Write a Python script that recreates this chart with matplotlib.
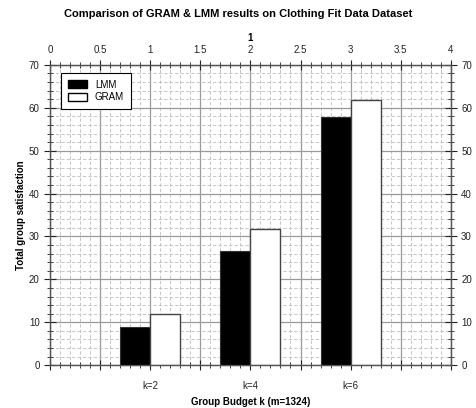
import matplotlib
matplotlib.use("Agg")
import matplotlib.pyplot as plt
import numpy as np
from matplotlib.patches import Patch

plt.rcParams['font.family'] = ['Liberation Sans', 'DejaVu Sans']

categories = ["k=2", "k=4", "k=6"]
positions = [1, 2, 3]
lmm = [9.0, 26.6, 57.8]
gram = [12.0, 31.7, 61.8]
top_ticks = [0, 0.5, 1, 1.5, 2, 2.5, 3, 3.5, 4]
top_labels = ["0", "0.5", "1", "1.5", "2", "2.5", "3", "3.5", "4"]
y_ticks = [0, 10, 20, 30, 40, 50, 60, 70]

fig = plt.figure(figsize=(4.77, 4.08), dpi=100)
ax = fig.add_axes([0.105, 0.105, 0.840, 0.736])

w = 0.3
ax.set_axisbelow(True)
ax.bar(np.array(positions) - w / 2, lmm, width=w, color='black', edgecolor='#333333', linewidth=0.8, zorder=3)
ax.bar(np.array(positions) + w / 2, gram, width=w, color='white', edgecolor='#444444', linewidth=1.0, zorder=3)

ax.set_xlim(0, 4)
ax.set_ylim(0, 70)

ax.set_xticks(top_ticks)
ax.set_xticklabels(["" if t not in positions else categories[positions.index(t)] for t in top_ticks])
ax.set_xticks(np.arange(0, 4.0001, 0.1), minor=True)
ax.set_yticks(y_ticks)
ax.set_yticks(np.arange(0, 70.001, 2), minor=True)

ax.grid(which='major', color='#9a9a9a', linewidth=0.9, linestyle='-')
ax.grid(which='minor', color='#bdbdbd', linewidth=0.6, linestyle=(0, (4, 2.5)))

ax.tick_params(axis='x', which='major', direction='inout', length=7, width=0.8, labelsize=7, pad=8, colors='#222222')
ax.tick_params(axis='x', which='minor', direction='inout', length=4, width=0.6, colors='#222222')
ax.tick_params(axis='y', which='major', direction='inout', length=8, width=0.8, labelsize=7,
               right=True, labelright=True, colors='#222222')
ax.tick_params(axis='y', which='minor', direction='inout', length=4, width=0.6, right=True, colors='#222222')

ax2 = ax.twiny()
ax2.set_xlim(0, 4)
ax2.set_xticks(top_ticks)
ax2.set_xticklabels(top_labels)
ax2.set_xticks(np.arange(0, 4.0001, 0.1), minor=True)
ax2.tick_params(axis='x', which='major', direction='inout', length=7, width=0.8, labelsize=7, colors='#222222')
ax2.tick_params(axis='x', which='minor', direction='inout', length=4, width=0.6, colors='#222222')
ax2.set_xlabel("1", fontsize=7, fontweight='bold', labelpad=3)

for a in (ax, ax2):
    for s in a.spines.values():
        s.set_color('#555555')
        s.set_linewidth(0.9)

ax.set_xlabel("Group Budget k (m=1324)", fontsize=7, fontweight='bold', labelpad=4)
ax.set_ylabel("Total group satisfaction", fontsize=7, fontweight='bold', labelpad=2)
fig.suptitle("Comparison of GRAM & LMM results on Clothing Fit Data Dataset", fontsize=8, fontweight='bold', y=0.978)

handles = [Patch(facecolor='black', edgecolor='black', label='LMM'),
           Patch(facecolor='white', edgecolor='black', label='GRAM')]
leg = ax.legend(handles=handles, loc='upper left', bbox_to_anchor=(0.015, 0.99), fontsize=7,
                frameon=True, fancybox=False, edgecolor='black', framealpha=1,
                handlelength=2.0, handleheight=0.8, borderpad=0.7, labelspacing=0.3, handletextpad=0.8)
leg.get_frame().set_linewidth(0.8)

fig.savefig("out.png", dpi=100)
